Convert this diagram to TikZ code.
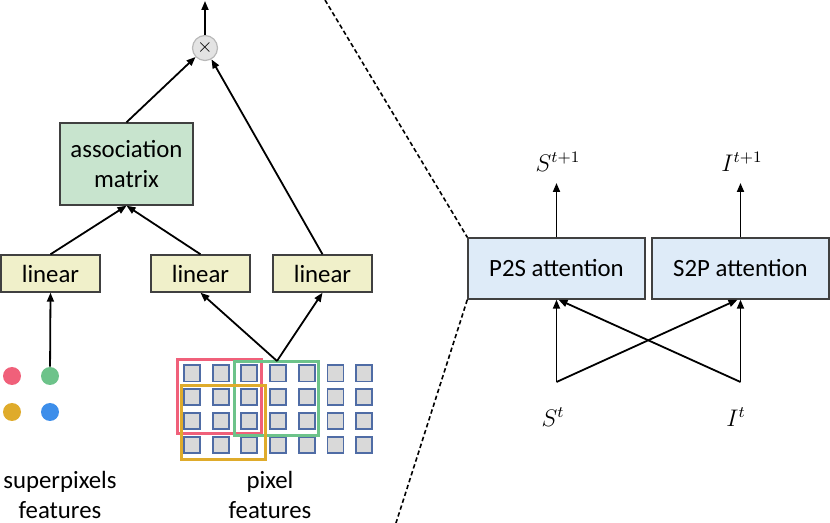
\documentclass[tikz,border=0pt]{standalone}
\usepackage{fontspec}
\setmainfont{Carlito}
\usetikzlibrary{arrows.meta}

\definecolor{assocgreen}{RGB}{200,228,206}
\definecolor{linyellow}{RGB}{240,240,202}
\definecolor{attblue}{RGB}{222,235,248}
\definecolor{pixgray}{RGB}{217,217,217}
\definecolor{pixblue}{RGB}{79,108,165}
\definecolor{spred}{RGB}{240,96,122}
\definecolor{spgreen}{RGB}{109,195,138}
\definecolor{spyellow}{RGB}{223,171,43}
\definecolor{spblue}{RGB}{61,142,234}
\definecolor{boxline}{RGB}{64,64,64}

\tikzset{
  layerbox/.style={draw=boxline, line width=0.7pt, inner sep=0pt, align=center,
    font=\fontsize{12.4}{15}\selectfont},
  linbox/.style={layerbox, fill=linyellow, minimum width=49.5pt, minimum height=18.5pt},
  attbox/.style={layerbox, fill=attblue, minimum width=88.5pt, minimum height=30.5pt},
  spdot/.style={circle, inner sep=0pt, minimum size=9pt},
  flow/.style={-{Triangle[length=4.5pt,width=3.5pt]}, line width=0.9pt},
  caption/.style={align=center, font=\fontsize{12.4}{15}\selectfont},
  mathlbl/.style={font=\fontsize{11.5}{13}\selectfont},
  window/.style={line width=1.5pt}
}

\begin{document}
\begin{tikzpicture}[x=0.5pt, y=-0.5pt]
        \useasboundingbox (0,0) rectangle (830,523);

        % Association branch
        \node[circle, draw=gray!55, fill=gray!22, line width=0.6pt, minimum size=12.5pt, inner sep=0pt] (mult) at (205,48) {$\times$};
        \node[layerbox, fill=assocgreen, minimum width=66.5pt, minimum height=41pt] (assoc) at (126.5,164) {association\\matrix};
        \coordinate (out) at (205,1);

        % Linear layers
        \node[linbox] (lin1) at (50.5,273.5) {linear};
        \node[linbox] (lin2) at (200.5,273.5) {linear};
        \node[linbox] (lin3) at (322.5,273.5) {linear};

        % Superpixel features
        \node[spdot, fill=spred] (sp1) at (12,376) {};
        \node[spdot, fill=spgreen] (sp2) at (50,376) {};
        \node[spdot, fill=spyellow] (sp3) at (12,412) {};
        \node[spdot, fill=spblue] (sp4) at (50,412) {};
        \node[caption] (splbl) at (60,495) {superpixels\\features};

        % Pixel features
        \foreach \i in {0,...,6}
          \foreach \j in {0,...,3}
            \draw[draw=pixblue, fill=pixgray, line width=0.95pt] ({184+28.7*\i},{365+23.9*\j}) rectangle ++(16,16.5);
        \draw[window, draw=spred] (177.3,360) rectangle (261.7,433.3);
        \draw[window, draw=spgreen] (234,362) rectangle (318.7,436);
        \draw[window, draw=spyellow] (181.3,385.7) rectangle (265.3,459.3);
        \coordinate (grid) at (277,361);
        \node[caption] (pxlbl) at (270,495) {pixel\\features};

        % Arrows
        \draw[flow] (sp2) -- (lin1.south);
        \draw[flow] (lin1.north) -- (assoc.south);
        \draw[flow] (lin2.north) -- (assoc.south);
        \draw[flow] (grid) -- (lin2.south);
        \draw[flow] (grid) -- (lin3.south);
        \draw[flow] (assoc.north) -- (mult);
        \draw[flow] (lin3.north) -- (mult);
        \draw[flow] (mult.north) -- (out);

        % Attention blocks
        \node[attbox] (p2s) at (556.5,268.5) {P2S attention};
        \node[attbox] (s2p) at (740.5,268.5) {S2P attention};
        \coordinate (snext) at (556.5,183);
        \coordinate (inext) at (740.5,183);
        \node[mathlbl] (slbl) at (558,162) {$S^{t+1}$};
        \node[mathlbl] (ilbl) at (742,162) {$I^{t+1}$};
        \coordinate (st) at (556.5,382);
        \coordinate (it) at (740.5,382);
        \node[mathlbl] (stlbl) at (553,417) {$S^{t}$};
        \node[mathlbl] (itlbl) at (736,417) {$I^{t}$};

        \draw[flow] (p2s.north) -- (snext);
        \draw[flow] (s2p.north) -- (inext);
        \draw[flow] (st) -- (p2s.south);
        \draw[flow] (st) -- ([xshift=-1.5pt]s2p.south);
        \draw[flow] (it) -- (s2p.south);
        \draw[flow] (it) -- ([xshift=1pt]p2s.south);

        % Zoom lines
        \draw[dash pattern=on 2.2pt off 1.4pt, line width=0.8pt] (325,0) -- (p2s.north west);
        \draw[dash pattern=on 2.2pt off 1.4pt, line width=0.8pt] (p2s.south west) -- (396,523);

        \end{tikzpicture}
\end{document}
